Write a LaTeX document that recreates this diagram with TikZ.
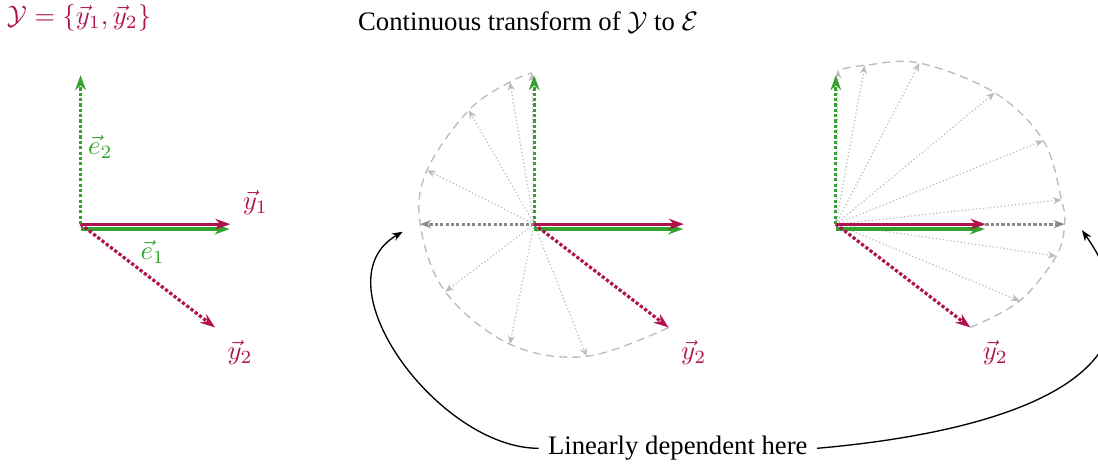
\documentclass[tikz,border=0pt]{standalone}
\usepackage{fontspec}
\setmainfont{Liberation Serif}
\usetikzlibrary{arrows.meta,positioning,calc}
\definecolor{crimson}{HTML}{B0124F}
\definecolor{leafgreen}{HTML}{35A12E}
\definecolor{ashgray}{HTML}{8A8A8A}
\definecolor{palegray}{HTML}{BBBBBB}
\tikzset{
  vecy/.style={-{Stealth[length=5.6pt,width=4pt]},line width=1.2pt,crimson},
  vece/.style={-{Stealth[length=5.6pt,width=4pt]},line width=1.2pt,leafgreen},
  dotline/.style={dash pattern=on \pgflinewidth off 0.8pt},
  ghost/.style={-{Stealth[length=3.2pt,width=2.6pt]},line width=0.45pt,palegray,dash pattern=on 0.45pt off 0.9pt},
  singular/.style={-{Stealth[length=4pt,width=3pt]},line width=1.2pt,ashgray,dotline},
  trace/.style={line width=0.5pt,palegray,dash pattern=on 3pt off 2pt},
  bendarrow/.style={-{Stealth[length=4pt,width=3pt]},line width=0.5pt,black},
  vlabel/.style={inner sep=1pt}
}

\begin{document}
\begin{tikzpicture}
  \useasboundingbox (0,0) rectangle (14.45,6.12);
  \coordinate (O1) at (1.06,3.17);
  \coordinate (O2) at (7.03,3.17);
  \coordinate (O3) at (11.0,3.17);

  % headings
  \node[crimson] (yset) at (1.04,5.88) {$\mathcal{Y}=\{\vec{y}_1,\vec{y}_2\}$};
  \node (title) at (6.95,5.83) {Continuous transform of $\mathcal{Y}$ to $\mathcal{E}$};

  % middle: y2 turns the long way round
  \draw[trace] plot[smooth,tension=0.6,shift={(O2)}] coordinates {(1.77,-1.36) (0.69,-1.74) (-0.32,-1.58) (-1.17,-0.89) (-1.5,0) (-1.41,0.71) (-0.86,1.50) (-0.32,1.87) (-0.03,1.99)};
  \foreach \x/\y [count=\k] in {0.69/-1.74,-0.32/-1.58,-1.17/-0.89,-1.41/0.71,-0.86/1.50,-0.32/1.87,-0.03/1.99}{
    \coordinate (mid\k) at ($(O2)+(\x,\y)$);
    \draw[ghost] (O2) -- (mid\k);
  }
  \coordinate (midflat) at ($(O2)+(-1.5,0)$);
  \draw[singular] (O2) -- (midflat);

  % right: y2 turns the short way round
  \draw[trace] plot[smooth,tension=0.6,shift={(O3)}] coordinates {(1.77,-1.36) (2.42,-1.01) (2.90,-0.42) (3.01,0) (2.97,0.32) (2.73,1.10) (2.09,1.73) (1.10,2.12) (0.38,2.09) (0.03,2.03)};
  \foreach \x/\y [count=\k] in {2.42/-1.01,2.90/-0.42,2.97/0.32,2.73/1.10,2.09/1.73,1.10/2.12,0.38/2.09,0.03/2.03}{
    \coordinate (rgt\k) at ($(O3)+(\x,\y)$);
    \draw[ghost] (O3) -- (rgt\k);
  }
  \coordinate (rgtflat) at ($(O3)+(3.01,0)$);
  \draw[singular] (O3) -- (rgtflat);

  % the two bases in every panel
  \foreach \o in {O1,O2,O3}{
    \coordinate (\o-e1s) at ($(\o)+(0,-0.065)$);
    \coordinate (\o-e1) at ($(\o-e1s)+(1.96,0)$);
    \coordinate (\o-e2) at ($(\o)+(0,1.96)$);
    \coordinate (\o-y1) at ($(\o)+(1.97,0)$);
    \coordinate (\o-y2) at ($(\o)+(1.77,-1.36)$);
    \draw[vece] (\o-e1s) -- (\o-e1);
    \draw[vece,dotline] (\o) -- (\o-e2);
    \draw[vecy] (\o) -- (\o-y1);
    \draw[vecy,dotline] (\o) -- (\o-y2);
    \node[vlabel,crimson] (\o-y2lab) at ($(\o)+(2.1,-1.69)$) {$\vec{y}_2$};
  }
  \node[vlabel,crimson] (y1lab) at ($(O1)+(2.30,0.29)$) {$\vec{y}_1$};
  \node[vlabel,leafgreen] (e2lab) at ($(O1)+(0.26,1.02)$) {$\vec{e}_2$};
  \node[vlabel,leafgreen] (e1lab) at ($(O1)+(0.95,-0.36)$) {$\vec{e}_1$};

  % where the basis collapses
  \node (dep) at (8.92,0.22) {Linearly dependent here};
  \coordinate (aimL) at (5.30,3.07);
  \coordinate (aimR) at (14.24,3.09);
  \draw[bendarrow] (dep.west) to[out=180,in=210] (aimL);
  \draw[bendarrow] (dep.east) to[out=5,in=-55,looseness=1.35] (aimR);
\end{tikzpicture}
\end{document}
